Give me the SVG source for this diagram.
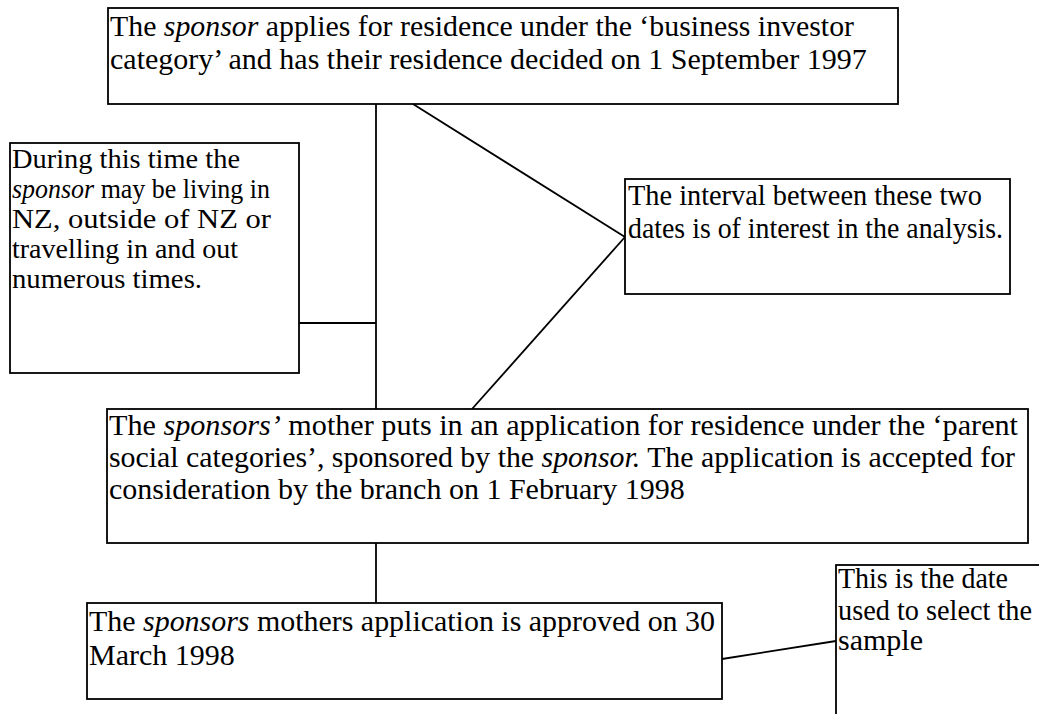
<svg xmlns="http://www.w3.org/2000/svg" width="1039" height="714" viewBox="0 0 1039 714">
<style>
.box{fill:#fff;stroke:#000;stroke-width:1.8}
.t{font-family:"Liberation Serif","Times New Roman",serif;font-size:30px;fill:#000}
.s{font-size:28px}
.i{font-style:italic}
.c{stroke:#000;stroke-width:1.8;fill:none}
</style>
<rect width="1039" height="714" fill="#fff"/>
<g id="connectors">
<line class="c" x1="376" y1="104" x2="376" y2="409"/>
<line class="c" x1="299" y1="323" x2="376" y2="323"/>
<line class="c" x1="413" y1="104" x2="625" y2="237"/>
<line class="c" x1="625" y1="237" x2="472" y2="409"/>
<line class="c" x1="376" y1="543" x2="376" y2="603"/>
<line class="c" x1="722" y1="659" x2="836" y2="641"/>
</g>
<g id="sponsor-applies">
<rect class="box" x="108" y="8" width="790" height="96"/>
<text class="t" x="110" y="36" textLength="744" lengthAdjust="spacingAndGlyphs">The <tspan class="i">sponsor</tspan> applies for residence under the ‘business investor</text>
<text class="t" x="110" y="69">category’ and has their residence decided on 1 September 1997</text>
</g>
<g id="during-time">
<rect class="box" x="10" y="143" width="289" height="230"/>
<text class="t s" x="12" y="168" textLength="228" lengthAdjust="spacingAndGlyphs">During this time the</text>
<text class="t s" x="12" y="198" textLength="258" lengthAdjust="spacingAndGlyphs"><tspan class="i">sponsor</tspan> may be living in</text>
<text class="t s" x="12" y="228" textLength="259" lengthAdjust="spacingAndGlyphs">NZ, outside of NZ or</text>
<text class="t s" x="12" y="258" textLength="226" lengthAdjust="spacingAndGlyphs">travelling in and out</text>
<text class="t s" x="12" y="288" textLength="190" lengthAdjust="spacingAndGlyphs">numerous times.</text>
</g>
<g id="interval">
<rect class="box" x="625" y="179" width="385" height="115"/>
<text class="t" x="628" y="205" textLength="354" lengthAdjust="spacingAndGlyphs">The interval between these two</text>
<text class="t" x="628" y="238" textLength="375" lengthAdjust="spacingAndGlyphs">dates is of interest in the analysis.</text>
</g>
<g id="mother-applies">
<rect class="box" x="107" y="409" width="921" height="134"/>
<text class="t" x="109" y="435" textLength="909" lengthAdjust="spacingAndGlyphs">The <tspan class="i">sponsors’</tspan> mother puts in an application for residence under the ‘parent</text>
<text class="t" x="109" y="467" textLength="906" lengthAdjust="spacingAndGlyphs">social categories’, sponsored by the <tspan class="i">sponsor.</tspan> The application is accepted for</text>
<text class="t" x="109" y="499">consideration by the branch on 1 February 1998</text>
</g>
<g id="approved">
<rect class="box" x="87" y="603" width="635" height="96"/>
<text class="t" x="89" y="631" textLength="626" lengthAdjust="spacingAndGlyphs">The <tspan class="i">sponsors</tspan> mothers application is approved on 30</text>
<text class="t" x="89" y="665">March 1998</text>
</g>
<g id="sample-date">
<rect class="box" x="836" y="565" width="220" height="170"/>
<text class="t" x="838" y="588" textLength="170" lengthAdjust="spacingAndGlyphs">This is the date</text>
<text class="t" x="838" y="620" textLength="194" lengthAdjust="spacingAndGlyphs">used to select the</text>
<text class="t" x="838" y="650">sample</text>
</g>
</svg>
